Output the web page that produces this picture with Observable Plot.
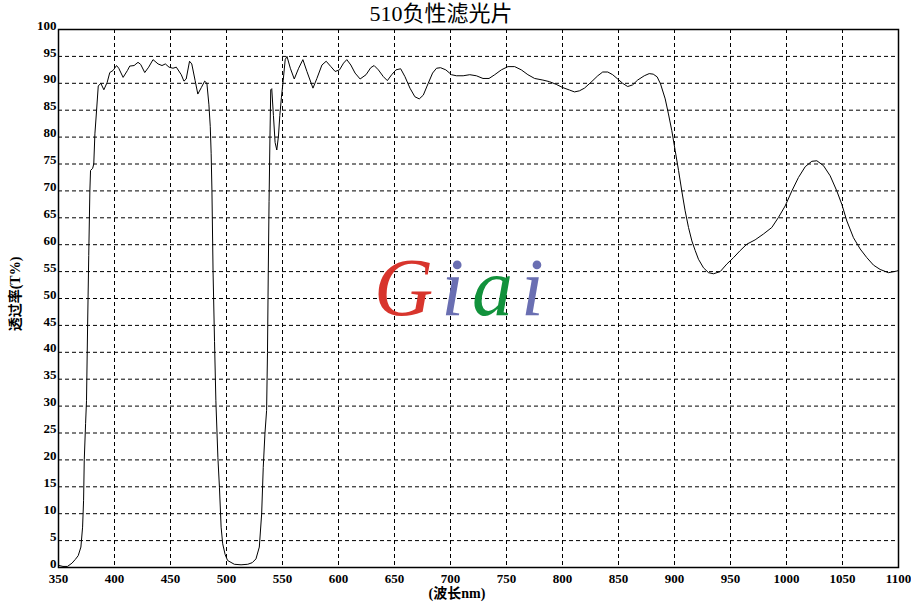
<!DOCTYPE html>
<html>
<head>
<meta charset="utf-8">
<script src="https://cdn.jsdelivr.net/npm/d3@7"></script>
<script src="https://cdn.jsdelivr.net/npm/@observablehq/plot@0.6"></script>
<style>
  html, body { margin: 0; padding: 0; background: #fff; }
  #wrap { position: relative; width: 911px; height: 604px; overflow: hidden; background: #fff; }
  #chart { position: absolute; left: 0; top: 0; }
  .title { position: absolute; left: 0; top: 1px; width: 882px; text-align: center;
           font-family: "Liberation Serif", "Noto Sans CJK SC", serif; font-size: 22px; line-height: 26px; color: #000; }
  .ylab { position: absolute; left: 14px; top: 294px; transform: translate(-50%, -50%) rotate(-90deg);
          white-space: nowrap; font-family: "Liberation Serif", "Noto Sans CJK SC", serif; font-weight: bold; font-size: 14px; color: #000; }
  .xlab { position: absolute; left: 0; width: 914px; top: 586px; text-align: center;
          font-family: "Liberation Serif", "Noto Sans CJK SC", serif; font-weight: bold; font-size: 14px; line-height: 16px; color: #000; }
</style>
</head>
<body>
<div id="wrap">
  <div id="chart"></div>
  <div class="title">510负性滤光片</div>
  <div class="ylab">透过率(T%)</div>
  <div class="xlab">(波长nm)</div>
</div>
<script>
const titleText = "510负性滤光片";
const xLabel = "(波长nm)";
const yLabel = "透过率(T%)";
const xTicks = [350, 400, 450, 500, 550, 600, 650, 700, 750, 800, 850, 900, 950, 1000, 1050, 1100];
const yTicks = [0, 5, 10, 15, 20, 25, 30, 35, 40, 45, 50, 55, 60, 65, 70, 75, 80, 85, 90, 95, 100];

const wavelengths = [
  350, 354, 358, 362, 365, 367.6, 370, 371.5, 372.4, 373, 374.2, 375, 376, 377, 378, 378.6, 380.5, 381.5,
  382.5, 384, 385.5, 387.8, 390.5, 393.5, 395.8, 398.8, 401.8, 403.8, 407.7, 411.6, 413.6, 417.5, 421, 423.4,
  427, 430.5, 434.4, 438.9, 442.4, 445.4, 448.7, 452.2, 455.2, 459.6, 462, 464, 467, 469, 472, 474.4,
  477.5, 480.5, 482.5, 484.3, 485.5, 486.3, 487, 488, 489.3, 490.5, 492.3, 493.7, 495.2, 496.6, 498.8, 501,
  507, 513, 519, 523, 526.3, 529.3, 531.4, 532.8, 534.3, 535.8, 536.6, 537.3, 538, 538.8, 539.5, 540.4,
  541.9, 543.4, 544.9, 546.4, 547.6, 549, 550.6, 552.4, 554, 557, 560.5, 564.4, 568.2, 571.8, 577.2, 580.7,
  585.2, 589, 593.2, 597, 600.9, 604.5, 607.4, 611, 614.8, 619.3, 624.6, 628.8, 631.8, 635.6, 640, 643.6,
  647.5, 651.3, 655.5, 659.3, 663.8, 668.2, 672.1, 675.7, 680.1, 684, 687.5, 691.1, 695.8, 700.9, 705.3, 711.3,
  717.2, 723.1, 729, 734.4, 739.5, 745.4, 751.3, 757.3, 763.2, 769.1, 775.1, 782.5, 788.4, 794.4, 800.3, 806.2,
  810.7, 815.1, 819.6, 825.5, 831.5, 835.9, 840.4, 844.8, 849.3, 853.7, 858.2, 862.6, 867.1, 873, 877.4, 881,
  884.5, 887.5, 891.7, 894.6, 897.6, 900.6, 903.6, 906.5, 909.5, 912.5, 915.5, 918.5, 921.4, 925.9, 930.4, 934.8,
  940.8, 946.7, 952.7, 958.6, 964.6, 972, 979.5, 986.9, 992.9, 998.8, 1004.8, 1010.7, 1016.7, 1022.6, 1027.1, 1033,
  1039, 1044.9, 1049.4, 1053.9, 1059.8, 1065.8, 1071.7, 1077.7, 1083.6, 1091, 1098.5, 1100
];
const transmittance = [
  0.4, 0.2, 0.2, 0.8, 1.5, 2.2, 3.8, 7.5, 12.5, 20, 26.8, 31, 45, 58, 70, 73.8, 74.2, 75,
  80.6, 85, 89.5, 90, 88.8, 90.2, 92, 92.4, 93.3, 92.8, 91.1, 92.4, 93.2, 93.3, 93.9, 93.5,
  92, 93, 94.4, 93.6, 93.3, 93.6, 93, 92.8, 93, 91.6, 90.4, 90.8, 94.1, 93.6, 90.5, 88,
  89.2, 90.4, 90, 86, 82, 77, 70, 55, 42, 31, 20.5, 14.9, 7.5, 4.4, 2.4, 1.3,
  0.6, 0.5, 0.6, 0.9, 1.6, 3.8, 10, 18.6, 24.8, 29.2, 40, 55, 68, 80, 88.8, 89,
  84, 79, 77.6, 80.2, 84, 87.3, 90.5, 94.4, 95, 92.8, 90.8, 92.8, 94.4, 92.2, 89.1, 90.9,
  93.4, 94.1, 93.1, 92.2, 92.5, 93.75, 94.4, 93.4, 91.9, 90.8, 91.6, 92.9, 93.3, 92.5, 91.25, 90.5,
  91.6, 92.5, 92.7, 91.25, 89.1, 87.5, 87.1, 87.8, 90, 91.9, 92.8, 92.9, 92.5, 91.6, 91.4, 91.4,
  91.6, 91.4, 90.9, 90.9, 91.6, 92.5, 93.1, 93.1, 92.5, 91.6, 90.9, 90.6, 90.3, 89.8, 89.2, 88.75,
  88.4, 88.6, 89.1, 90.2, 91.4, 92.1, 92.1, 91.6, 90.8, 90, 89.4, 89.7, 90.6, 91.4, 91.8, 91.7,
  91.2, 89.9, 87.1, 84.3, 81.2, 77.5, 73.8, 70, 66.3, 63.2, 60.7, 58.9, 57.3, 55.7, 54.8, 54.6,
  55, 56.4, 57.6, 58.9, 60.1, 60.9, 62, 63.2, 65.1, 67.2, 70, 72.5, 74.5, 75.5, 75.6, 74.7,
  72.8, 70, 67.5, 64.4, 61.3, 59.2, 57.6, 56.2, 55.4, 54.8, 55.1, 55.2
];

const logoLetters = ["G", "i", "a", "i"];
const logoColors = ["#d8352d", "#6a6fb2", "#12923c", "#6a6fb2"];

const data = wavelengths.map((w, i) => ({w, t: transmittance[i]}));

const chart = Plot.plot({
  width: 911,
  height: 604,
  marginLeft: 58,
  marginRight: 13,
  marginTop: 29,
  marginBottom: 37,
  x: {domain: [350, 1100]},
  y: {domain: [0, 100]},
  style: {
    fontFamily: "'Liberation Serif', serif",
    fontSize: "13px",
    fontWeight: "bold",
    color: "black",
    background: "white",
    overflow: "visible"
  },
  marks: [
    Plot.gridX(xTicks, {stroke: "black", strokeOpacity: 1, strokeWidth: 1, strokeDasharray: "4,3"}),
    Plot.gridY(yTicks, {stroke: "black", strokeOpacity: 1, strokeWidth: 1, strokeDasharray: "4,3"}),
    Plot.axisX(xTicks, {tickSize: 0, tickPadding: 6, label: null, tickFormat: d => String(d)}),
    Plot.axisY(yTicks, {tickSize: 0, tickPadding: 2, dy: -4, label: null, tickFormat: d => String(d)}),
    Plot.line(data, {x: "w", y: "t", stroke: "black", strokeWidth: 1}),
    Plot.frame({stroke: "black", strokeWidth: 1.5})
  ]
});
document.getElementById("chart").appendChild(chart);

// logo watermark
const svg = d3.select(chart);
const logo = svg.append("text")
  .attr("x", 374)
  .attr("y", 315)
  .attr("text-anchor", "start")
  .attr("font-family", "'Liberation Serif', serif")
  .attr("font-style", "italic")
  .attr("font-weight", "normal")
  .attr("font-size", 82)
  .attr("letter-spacing", 8);
logoLetters.forEach((c, i) => {
  logo.append("tspan").attr("fill", logoColors[i]).text(c);
});
</script>
</body>
</html>
